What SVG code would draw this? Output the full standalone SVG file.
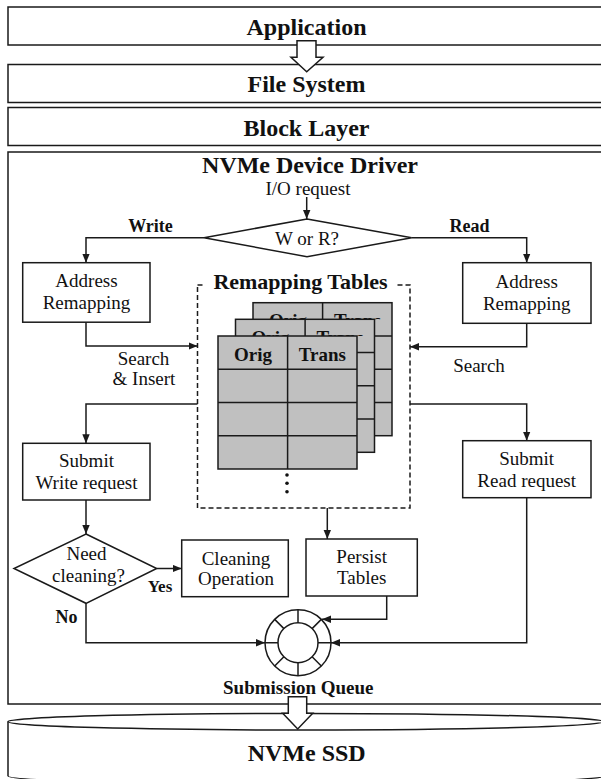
<svg xmlns="http://www.w3.org/2000/svg" width="601" height="779" viewBox="0 0 601 779">
  <style>
    .box { fill: #fff; stroke: #1a1a1a; stroke-width: 1.5; }
    .ln { fill: none; stroke: #1a1a1a; stroke-width: 1.5; }
    .arr { fill: none; stroke: #1a1a1a; stroke-width: 1.5; marker-end: url(#ah); }
    .dash { fill: none; stroke: #1a1a1a; stroke-width: 1.5; stroke-dasharray: 5 3; }
    .tbl { fill: #c0c0c0; stroke: #1a1a1a; stroke-width: 1.5; }
    text { font-family: "Liberation Serif", "Times New Roman", "DejaVu Serif", serif; fill: #111; text-anchor: middle; }
    .tb { font-weight: bold; }
    .tr { font-size: 19px; }
    .h1 { font-size: 24px; }
    .h2 { font-size: 22px; }
    .lb { font-size: 18px; }
    .cell { font-size: 19px; }
    .block { fill: #fff; stroke: #1a1a1a; stroke-width: 1.5; stroke-linejoin: miter; }
  </style>
  <defs>
    <marker id="ah" markerUnits="userSpaceOnUse" markerWidth="9" markerHeight="8" viewBox="0 0 9 8" refX="9" refY="4" orient="auto">
      <path d="M0,0.3 L9,4 L0,7.7 z" fill="#1a1a1a"/>
    </marker>
    <!-- the back tables only show the top of their header text -->
    <clipPath id="clip-back">
      <rect x="250" y="300" width="145" height="19.3"/>
    </clipPath>
    <clipPath id="clip-mid">
      <rect x="233" y="317" width="145" height="19"/>
    </clipPath>
  </defs>

  <!-- host software stack -->
  <g id="application">
    <rect class="box" x="8" y="7" width="600" height="38"/>
    <text class="tb h1" x="306.5" y="34.5">Application</text>
  </g>
  <g id="file-system">
    <rect class="box" x="8" y="64.5" width="600" height="38"/>
    <text class="tb h1" x="306.5" y="92">File System</text>
  </g>
  <g id="block-layer">
    <rect class="box" x="8" y="107.5" width="600" height="38"/>
    <text class="tb h1" x="306.5" y="136">Block Layer</text>
  </g>
  <g id="stack-arrow">
    <path class="block" d="M297,40.7 H316 V57.3 H323 L306.7,71.7 L291,57.3 H297 Z"/>
  </g>

  <!-- driver container -->
  <g id="nvme-driver">
    <rect class="box" x="8" y="152" width="600" height="552"/>
    <text class="tb h1" x="310" y="173">NVMe Device Driver</text>
    <text class="tr" x="308" y="195">I/O request</text>
  </g>

  <g id="w-or-r">
    <path class="box" d="M307,219 L411.7,237.7 L307,256.7 L204,237.7 Z"/>
    <text class="tr" x="307" y="245">W or R?</text>
  </g>

  <g id="addr-remap-write">
    <rect class="box" x="22.7" y="262.7" width="127.3" height="59.5"/>
    <text class="tr" x="86.5" y="287">Address</text>
    <text class="tr" x="86.5" y="309">Remapping</text>
  </g>

  <g id="addr-remap-read">
    <rect class="box" x="462.7" y="262.7" width="128.3" height="60.6"/>
    <text class="tr" x="526.7" y="287.5">Address</text>
    <text class="tr" x="526.7" y="309.5">Remapping</text>
  </g>

  <!-- remapping tables -->
  <g id="remapping-tables">
    <rect class="dash" x="197.5" y="285" width="212.5" height="223"/>
    <rect x="205" y="276" width="191" height="16" fill="#fff"/>
    <text class="tb h2" x="300.5" y="288.5">Remapping Tables</text>

    <g id="table-back">
      <rect class="tbl" x="253" y="302.7" width="139" height="133"/>
      <path class="ln" d="M322.6,302.7 V435.7 M253,336 H392 M253,369.2 H392 M253,402.5 H392"/>
      <g clip-path="url(#clip-back)">
        <text class="tb cell" x="288" y="327">Orig</text>
        <text class="tb cell" x="357.5" y="327">Trans</text>
      </g>
    </g>
    <g id="table-middle">
      <rect class="tbl" x="235.5" y="319.3" width="139" height="133"/>
      <path class="ln" d="M305.1,319.3 V452.3 M235.5,352.6 H374.5 M235.5,385.8 H374.5 M235.5,419.1 H374.5"/>
      <g clip-path="url(#clip-mid)">
        <text class="tb cell" x="270.5" y="343.7">Orig</text>
        <text class="tb cell" x="340" y="343.7">Trans</text>
      </g>
    </g>
    <g id="table-front">
      <rect class="tbl" x="218" y="336" width="139" height="133"/>
      <path class="ln" d="M287.6,336 V469 M218,369.2 H357 M218,402.5 H357 M218,435.7 H357"/>
      <text class="tb cell" x="253" y="360.5">Orig</text>
      <text class="tb cell" x="322.3" y="360.5">Trans</text>
    </g>
    <circle cx="287" cy="475" r="1.8" fill="#111"/>
    <circle cx="287" cy="483.3" r="1.8" fill="#111"/>
    <circle cx="287" cy="491.7" r="1.8" fill="#111"/>
  </g>

  <g id="submit-write">
    <rect class="box" x="22.7" y="443.3" width="127.3" height="56.7"/>
    <text class="tr" x="86.5" y="467.3">Submit</text>
    <text class="tr" x="86.5" y="489.3">Write request</text>
  </g>

  <g id="submit-read">
    <rect class="box" x="462.7" y="440.7" width="128.3" height="57"/>
    <text class="tr" x="526.7" y="465">Submit</text>
    <text class="tr" x="526.7" y="486.7">Read request</text>
  </g>

  <g id="need-cleaning">
    <path class="box" d="M86,534 L156.7,568.5 L86,603.3 L14,568.5 Z"/>
    <text class="tr" x="86.5" y="560">Need</text>
    <text class="tr" x="88.5" y="581.7">cleaning?</text>
  </g>

  <g id="cleaning-op">
    <rect class="box" x="181.7" y="540" width="106.6" height="56.7"/>
    <text class="tr" x="236" y="565">Cleaning</text>
    <text class="tr" x="236" y="585">Operation</text>
  </g>

  <g id="persist-tables">
    <rect class="box" x="306" y="539" width="111.3" height="57"/>
    <text class="tr" x="361.7" y="563">Persist</text>
    <text class="tr" x="361.7" y="584">Tables</text>
  </g>

  <g id="submission-queue">
    <circle class="box" cx="298" cy="642.7" r="33"/>
    <circle class="box" cx="298" cy="642.7" r="20"/>
    <path class="ln" d="M298,609.7 V622.7 M298,662.7 V675.7 M265,642.7 H278 M318,642.7 H331 M274.7,619.4 L283.9,628.6 M321.3,619.4 L312.1,628.6 M274.7,666 L283.9,656.8 M321.3,666 L312.1,656.8"/>
    <text class="tb" x="298.3" y="694" font-size="19">Submission Queue</text>
  </g>

  <!-- storage device -->
  <g id="nvme-ssd">
    <path class="box" d="M8,721.7 V776 A298,8.3 0 0 0 604,776 V721.7"/>
    <ellipse class="box" cx="306" cy="721.7" rx="298" ry="8.3"/>
    <text class="tb h1" x="306.7" y="761">NVMe SSD</text>
  </g>
  <g id="sq-arrow">
    <path class="block" d="M288.3,696.7 H306.7 V713.3 H312.7 L297.7,729 L282.7,713.3 H288.3 Z"/>
  </g>

  <!-- flow connectors -->
  <g id="connectors">
    <path class="arr" d="M306.7,197 V219"/>
    <path class="arr" d="M204,237.7 H86 V262.7"/>
    <path class="arr" d="M411.7,237.7 H526.7 V262.7"/>
    <path class="arr" d="M86,322.2 V346 H197.5"/>
    <path class="arr" d="M526.7,323.3 V346.7 H410"/>
    <path class="arr" d="M197.5,404 H86 V443.3"/>
    <path class="arr" d="M410,404 H526.7 V440.7"/>
    <path class="arr" d="M86,500 V534"/>
    <path class="arr" d="M156.7,568.5 H181.7"/>
    <path class="arr" d="M327.3,508 V539"/>
    <path class="arr" d="M386.7,596 V619.3 H322"/>
    <path class="arr" d="M86,603.3 V642.7 H265"/>
    <path class="arr" d="M526.7,497.7 V642.7 H331"/>
    <text class="tb lb" x="150.5" y="232">Write</text>
    <text class="tb lb" x="469.5" y="231.7">Read</text>
    <text class="tr" x="143.5" y="365">Search</text>
    <text class="tr" x="144" y="385">&amp; Insert</text>
    <text class="tr" x="479" y="371.7">Search</text>
    <text class="tb" x="160" y="592.3" font-size="17">Yes</text>
    <text class="tb lb" x="66.5" y="623.3">No</text>
  </g>
</svg>
